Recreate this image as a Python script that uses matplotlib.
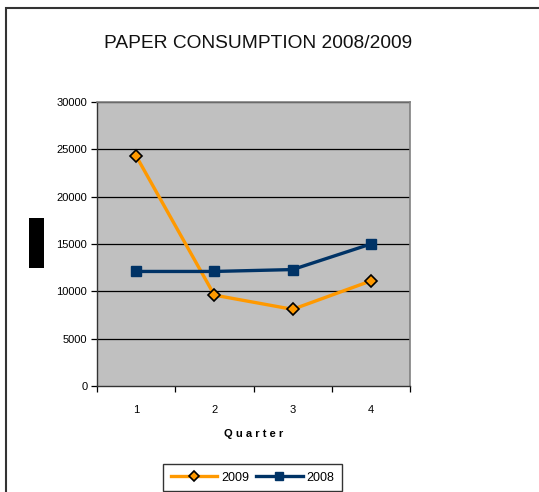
import matplotlib.pyplot as plt
from matplotlib.patches import Rectangle
import numpy as np

quarters = [1, 2, 3, 4]
consumo_2009 = [24300, 9600, 8100, 11100]
consumo_2008 = [12100, 12100, 12300, 15000]
yticks = [0, 5000, 10000, 15000, 20000, 25000, 30000]

plt.rcParams['font.family'] = ['Liberation Sans', 'DejaVu Sans']

fig = plt.figure(figsize=(5.39, 4.92), dpi=100)
ax = fig.add_axes([97/539, 106/492, 313/539, 284/492])

ax.set_facecolor('#C0C0C0')
for y in yticks[1:]:
    ax.axhline(y, color='black', lw=0.9, zorder=1)

l1, = ax.plot(quarters, consumo_2009, color='#FF9900', lw=2.4, marker='D',
              markersize=6, markerfacecolor='#FF9900', markeredgecolor='black',
              markeredgewidth=1.2, label='2009', zorder=3)
l2, = ax.plot(quarters, consumo_2008, color='#003366', lw=2.4, marker='s',
              markersize=6.5, markerfacecolor='#003366', markeredgecolor='#003366',
              label='2008', zorder=3)

ax.set_xlim(0.5, 4.5)
ax.set_ylim(0, 30000)
ax.set_yticks(yticks)
ax.set_xticks(quarters)
ax.set_xticks([0.5, 1.5, 2.5, 3.5, 4.5], minor=True)
ax.tick_params(axis='x', which='major', length=0, pad=14, labelsize=8)
ax.tick_params(axis='x', which='minor', length=4, width=0.9, direction='out')
ax.tick_params(axis='y', length=4, width=0.9, direction='out', labelsize=8, pad=3)

for s in ['top', 'right']:
    ax.spines[s].set_color('#808080')
    ax.spines[s].set_linewidth(1.2)
for s in ['left', 'bottom']:
    ax.spines[s].set_color('#333333')
    ax.spines[s].set_linewidth(1.0)

ax.set_xlabel('Q u a r t e r', fontsize=8, fontweight='bold', labelpad=10)

fig.text(0.478, 0.912, 'PAPER CONSUMPTION 2008/2009', ha='center', va='center',
         fontsize=13.8, color='#111111')

# bloque negro que tapa la etiqueta del eje y
fig.patches.append(Rectangle((29/539, (492-268)/492), 15/539, 50/492,
                             transform=fig.transFigure, facecolor='black',
                             edgecolor='none'))
# marco de la figura
fig.patches.append(Rectangle((6/539, -0.1), 1.2, (492-8)/492 + 0.1,
                             transform=fig.transFigure, facecolor='none',
                             edgecolor='#333333', lw=1.5))

leg = fig.legend(handles=[l1, l2], loc='lower center', bbox_to_anchor=(0.4685, 0.002),
                 ncol=2, fontsize=9, frameon=True, fancybox=False, edgecolor='black',
                 handlelength=3.7, columnspacing=0.6, handletextpad=0.3,
                 borderpad=0.6, borderaxespad=0, markerscale=0.8)
leg.get_frame().set_linewidth(1.0)

fig.savefig('out.png', dpi=100)
